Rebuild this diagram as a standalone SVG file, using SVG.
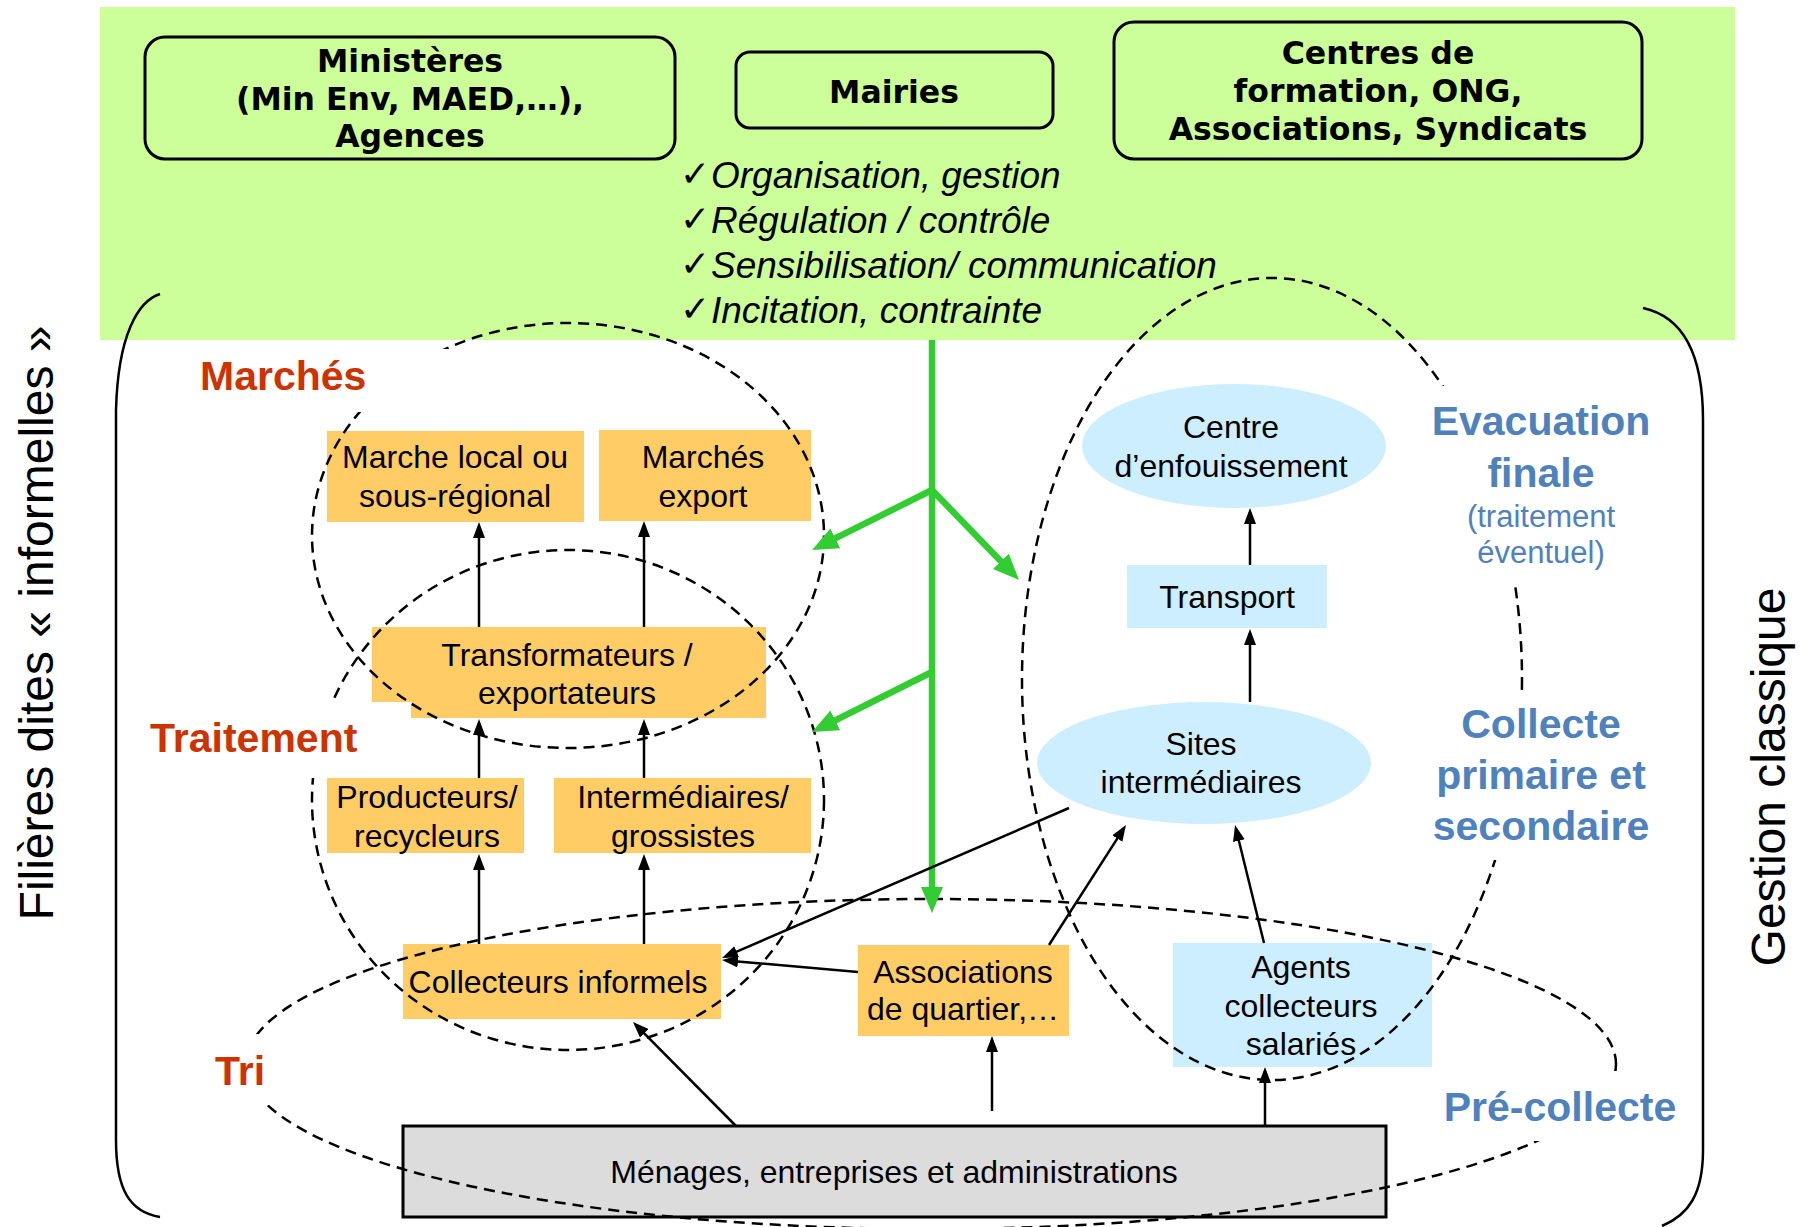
<svg xmlns="http://www.w3.org/2000/svg" width="1814" height="1227" viewBox="0 0 1814 1227">
<defs>
<style>
.bg{fill:#ccff99}
.top{fill:none;stroke:#000;stroke-width:3}
.tt{font-family:"DejaVu Sans",Verdana,sans-serif;font-weight:bold;font-size:31.5px;text-anchor:middle;fill:#000}
.lst{font-family:"Liberation Sans",Arial,sans-serif;font-style:italic;font-size:37px;fill:#000}
.chk{font-family:"DejaVu Sans",sans-serif;font-size:36px;fill:#000}
.or{fill:#ffcc66}
.lb{fill:#cdeeff}
.gr{fill:#dcdcdc;stroke:#000;stroke-width:3}
.bt{font-family:"Liberation Sans",Arial,sans-serif;font-size:32px;text-anchor:middle;fill:#000}
.dash{fill:none;stroke:#000;stroke-width:2.5;stroke-dasharray:11 7}
.brk{fill:none;stroke:#000;stroke-width:2.5}
.red{font-family:"Liberation Sans",Arial,sans-serif;font-weight:bold;font-size:41px;fill:#cc3300}
.blu{font-family:"Liberation Sans",Arial,sans-serif;font-weight:bold;font-size:41px;fill:#4f81bd;text-anchor:middle}
.blus{font-family:"Liberation Sans",Arial,sans-serif;font-size:31px;fill:#4f81bd;text-anchor:middle}
.side{font-family:"Liberation Sans",Arial,sans-serif;font-size:48px;fill:#000;text-anchor:middle}
.ar{fill:none;stroke:#000;stroke-width:2.5}
.ga{fill:none;stroke:#33cc33;stroke-width:6.5}
.wh{fill:#fff}
</style>
<marker id="ah" markerUnits="userSpaceOnUse" markerWidth="16" markerHeight="12" refX="12" refY="6" orient="auto" viewBox="0 0 16 12"><path d="M0,0 L16,6 L0,12 z" fill="#000"/></marker>
<marker id="gh" markerUnits="userSpaceOnUse" markerWidth="26" markerHeight="22" refX="18" refY="11" orient="auto" viewBox="0 0 26 22"><path d="M0,0 L26,11 L0,22 z" fill="#33cc33"/></marker>
</defs>

<rect class="bg" x="100" y="7" width="1635" height="333"/>

<g id="brackets">
<path class="brk" d="M160,294 C138,301 118,335 116,410 L116,1140 C116,1190 130,1212 160,1217"/>
<path class="brk" d="M1643,308 C1680,316 1703,350 1703,420 L1703,1150 C1703,1195 1688,1215 1662,1226"/>
</g>

<g id="side-labels">
<text class="side" transform="translate(53,623) rotate(-90)">Filières dites « informelles »</text>
<text class="side" transform="translate(1785,777) rotate(-90)">Gestion classique</text>
</g>

<g id="ministeres">
<rect class="top" x="145" y="37" width="530" height="122" rx="20"/>
<text class="tt" x="410" y="72">Ministères</text>
<text class="tt" x="410" y="110">(Min Env, MAED,…),</text>
<text class="tt" x="410" y="147">Agences</text>
</g>
<g id="mairies">
<rect class="top" x="736" y="52" width="317" height="76" rx="14"/>
<text class="tt" x="894" y="103">Mairies</text>
</g>
<g id="centres">
<rect class="top" x="1114" y="22" width="528" height="137" rx="20"/>
<text class="tt" x="1378" y="64">Centres de</text>
<text class="tt" x="1378" y="102">formation, ONG,</text>
<text class="tt" x="1378" y="140">Associations, Syndicats</text>
</g>

<g id="roles">
<text class="chk" x="680" y="186">✓</text><text class="lst" x="711" y="188">Organisation, gestion</text>
<text class="chk" x="680" y="231">✓</text><text class="lst" x="711" y="233">Régulation / contrôle</text>
<text class="chk" x="680" y="276">✓</text><text class="lst" x="711" y="278">Sensibilisation/ communication</text>
<text class="chk" x="680" y="321">✓</text><text class="lst" x="711" y="323">Incitation, contrainte</text>
</g>

<g id="marche-local">
<rect class="or" x="327" y="431" width="257" height="91"/>
<text class="bt" x="455" y="468">Marche local ou</text>
<text class="bt" x="455" y="507">sous-régional</text>
</g>
<g id="marches-export">
<rect class="or" x="599" y="430" width="212" height="91"/>
<text class="bt" x="703" y="468">Marchés</text>
<text class="bt" x="703" y="507">export</text>
</g>
<g id="transformateurs">
<polygon class="or" points="372,627 766,627 766,718 411,718 411,702 372,702"/>
<text class="bt" x="567" y="666">Transformateurs /</text>
<text class="bt" x="567" y="704">exportateurs</text>
</g>
<g id="producteurs">
<rect class="or" x="327" y="778" width="197" height="75"/>
<text class="bt" x="427" y="808">Producteurs/</text>
<text class="bt" x="427" y="847">recycleurs</text>
</g>
<g id="intermediaires">
<rect class="or" x="554" y="778" width="257" height="75"/>
<text class="bt" x="683" y="808">Intermédiaires/</text>
<text class="bt" x="683" y="847">grossistes</text>
</g>
<g id="collecteurs">
<rect class="or" x="403" y="944" width="318" height="75"/>
<text class="bt" x="558" y="993">Collecteurs informels</text>
</g>
<g id="associations">
<rect class="or" x="858" y="945" width="211" height="91"/>
<text class="bt" x="963" y="983">Associations</text>
<text class="bt" x="963" y="1020">de quartier,…</text>
</g>
<g id="agents">
<rect class="lb" x="1173" y="943" width="259" height="124"/>
<text class="bt" x="1301" y="978">Agents</text>
<text class="bt" x="1301" y="1017">collecteurs</text>
<text class="bt" x="1301" y="1055">salariés</text>
</g>
<g id="menages">
<rect class="gr" x="403" y="1126" width="983" height="91"/>
<text class="bt" x="894" y="1183">Ménages, entreprises et administrations</text>
</g>
<g id="centre-enfouissement">
<ellipse class="lb" cx="1234" cy="446" rx="152" ry="62"/>
<text class="bt" x="1231" y="438">Centre</text>
<text class="bt" x="1231" y="477">d’enfouissement</text>
</g>
<g id="transport">
<rect class="lb" x="1127" y="565" width="200" height="63"/>
<text class="bt" x="1227" y="608">Transport</text>
</g>
<g id="sites">
<ellipse class="lb" cx="1204" cy="763" rx="167" ry="61"/>
<text class="bt" x="1201" y="755">Sites</text>
<text class="bt" x="1201" y="793">intermédiaires</text>
</g>

<g id="zones">
<ellipse class="dash" cx="568" cy="535.5" rx="256" ry="212.5"/>
<ellipse class="dash" cx="568" cy="800" rx="256" ry="250"/>
<ellipse class="dash" cx="931" cy="1064" rx="685" ry="165"/>
<ellipse class="dash" cx="1272" cy="679" rx="250" ry="401"/>
</g>

<g id="zone-labels">
<rect class="wh" x="190" y="349" width="258" height="63"/>
<text class="red" x="200" y="390">Marchés</text>
<rect class="wh" x="140" y="702" width="205" height="76"/>
<text class="red" x="150" y="752">Traitement</text>
<rect class="wh" x="195" y="1034" width="95" height="71"/>
<text class="red" x="215" y="1085">Tri</text>
<rect class="wh" x="1420" y="386" width="245" height="197"/>
<text class="blu" x="1541" y="435">Evacuation</text>
<text class="blu" x="1541" y="487">finale</text>
<text class="blus" x="1541" y="527">(traitement</text>
<text class="blus" x="1541" y="563">éventuel)</text>
<rect class="wh" x="1420" y="690" width="245" height="170"/>
<text class="blu" x="1541" y="738">Collecte</text>
<text class="blu" x="1541" y="789">primaire et</text>
<text class="blu" x="1541" y="840">secondaire</text>
<rect class="wh" x="1430" y="1071" width="260" height="70"/>
<text class="blu" x="1560" y="1121">Pré-collecte</text>
</g>

<g id="connectors">
<line class="ga" x1="932" y1="340" x2="932" y2="905" marker-end="url(#gh)"/>
<line class="ga" x1="932" y1="490" x2="819.2" y2="546.4" marker-end="url(#gh)"/>
<line class="ga" x1="932" y1="490" x2="1013.4" y2="574.2" marker-end="url(#gh)"/>
<line class="ga" x1="932" y1="672" x2="819.2" y2="728.4" marker-end="url(#gh)"/>

<line class="ar" x1="479" y1="627" x2="479" y2="526" marker-end="url(#ah)"/>
<line class="ar" x1="644" y1="627" x2="644" y2="525" marker-end="url(#ah)"/>
<line class="ar" x1="479" y1="778" x2="479" y2="723" marker-end="url(#ah)"/>
<line class="ar" x1="644" y1="778" x2="644" y2="723" marker-end="url(#ah)"/>
<line class="ar" x1="479" y1="944" x2="479" y2="858" marker-end="url(#ah)"/>
<line class="ar" x1="644" y1="944" x2="644" y2="858" marker-end="url(#ah)"/>
<line class="ar" x1="1250" y1="565" x2="1250" y2="512" marker-end="url(#ah)"/>
<line class="ar" x1="1250" y1="702" x2="1250" y2="633" marker-end="url(#ah)"/>
<line class="ar" x1="1264" y1="943" x2="1236" y2="829" marker-end="url(#ah)"/>
<line class="ar" x1="1049" y1="945" x2="1123.8" y2="828.4" marker-end="url(#ah)"/>
<line class="ar" x1="1069" y1="808" x2="725.7" y2="956.4" marker-end="url(#ah)"/>
<line class="ar" x1="858" y1="972" x2="726" y2="960.4" marker-end="url(#ah)"/>
<line class="ar" x1="736" y1="1126" x2="635.8" y2="1024.8" marker-end="url(#ah)"/>
<line class="ar" x1="992" y1="1111" x2="992" y2="1040" marker-end="url(#ah)"/>
<line class="ar" x1="1265" y1="1126" x2="1265" y2="1071" marker-end="url(#ah)"/>
</g>
</svg>
